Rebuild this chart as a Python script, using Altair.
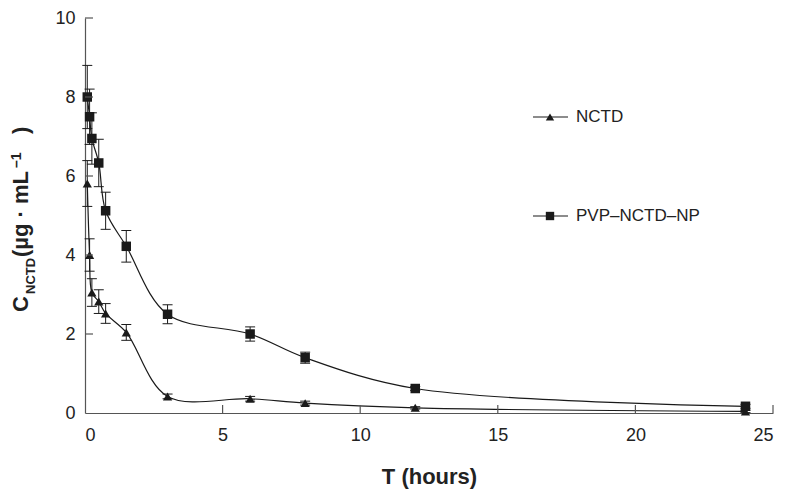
import altair as alt
import pandas as pd

# ---- data ----
time_h = [0.083, 0.167, 0.25, 0.5, 0.75, 1.5, 3, 6, 8, 12, 24]
nctd_mean = [5.81, 4.0, 3.05, 2.82, 2.52, 2.04, 0.42, 0.36, 0.25, 0.13, 0.04]
nctd_err = [0.58, 0.41, 0.35, 0.30, 0.25, 0.20, 0.06, 0.06, 0.05, 0.03, 0.03]
np_mean = [8.0, 7.5, 6.95, 6.33, 5.12, 4.22, 2.5, 2.0, 1.4, 0.62, 0.17]
np_err = [0.80, 0.70, 0.65, 0.60, 0.47, 0.40, 0.24, 0.18, 0.14, 0.05, 0.05]
series_names = ["NCTD", "PVP\u2013NCTD\u2013NP"]
x_ticks = [0, 5, 10, 15, 20, 25]
y_ticks = [0, 2, 4, 6, 8, 10]

rows = []
for name, means, errs in [(series_names[0], nctd_mean, nctd_err),
                          (series_names[1], np_mean, np_err)]:
    for t, m, e in zip(time_h, means, errs):
        rows.append({"series": name, "t": t, "c": m, "lo": max(m - e, 0), "hi": m + e})
df = pd.DataFrame(rows)

TOP = 10
W, H = 688, 395
INK = "#1a1a1a"
FONT = "Liberation Sans"

xscale = alt.Scale(domain=[0, 25], nice=False, zero=True)
yscale = alt.Scale(domain=[0, 10], nice=False)
xaxis = alt.Axis(values=x_ticks, tickSize=0, grid=False, labelFontSize=18,
                 labelFont=FONT, labelColor="#222", labelPadding=13,
                 domainColor="#555", domainWidth=1.2,
                 title="T (hours)", titleFont=FONT, titleFontSize=22,
                 titleFontWeight="bold", titleColor="#222",
                 titleBaseline="alphabetic", titleY=70)
yaxis = alt.Axis(values=y_ticks, tickSize=0, grid=False, labelFontSize=18,
                 labelFont=FONT, labelColor="#222", labelPadding=10,
                 domainColor="#555", domainWidth=1.2, title=None)

X = alt.X("t:Q", scale=xscale, axis=xaxis)
Y = alt.Y("c:Q", scale=yscale, axis=yaxis)

base = alt.Chart(df)

lines = base.mark_line(interpolate="catmull-rom", color=INK, strokeWidth=1.2).encode(
    x=X, y=Y, detail="series:N")

errs = base.mark_rule(color=INK, strokeWidth=1).encode(
    x=X, y=alt.Y("lo:Q", scale=yscale, axis=yaxis), y2="hi:Q")
cap_lo = base.mark_tick(orient="horizontal", size=10, thickness=1, color=INK, opacity=1).encode(
    x=X, y=alt.Y("lo:Q", scale=yscale, axis=yaxis))
cap_hi = base.mark_tick(orient="horizontal", size=10, thickness=1, color=INK, opacity=1).encode(
    x=X, y=alt.Y("hi:Q", scale=yscale, axis=yaxis))

points = base.mark_point(filled=True, opacity=1, color=INK, strokeWidth=0).encode(
    x=X, y=Y,
    shape=alt.Shape("series:N", scale=alt.Scale(domain=series_names,
                                                range=["triangle-up", "square"]), legend=None),
    size=alt.Size("series:N", scale=alt.Scale(domain=series_names, range=[85, 90]), legend=None),
)

# inward ticks
ytk = pd.DataFrame({"c": y_ticks[1:]})
xtk = pd.DataFrame({"t": x_ticks[1:]})
yticks = alt.Chart(ytk).mark_rule(color="#555", strokeWidth=1.2).encode(
    y=Y, x=alt.value(0), x2=alt.value(8))
xticks = alt.Chart(xtk).mark_rule(color="#555", strokeWidth=1.2).encode(
    x=X, y=alt.value(H), y2=alt.value(H - 8))

one = pd.DataFrame({"k": [0]})
OY = 8 + TOP   # page y of plot top
OX = 85        # page x of plot left


def txt(s, x, y, size, bold=True, angle=270):
    return alt.Chart(one).mark_text(
        text=s, font=FONT, fontSize=size, fontWeight="bold" if bold else "normal",
        color="#222", angle=angle, align="left", baseline="alphabetic"
    ).encode(x=alt.value(x), y=alt.value(y))


# y-axis title with subscript / superscript (page coords -> local)
ytitle = [
    txt("C", 28 - OX, 312 - OY, 22),
    txt("NCTD", 35 - OX, 294 - OY, 13),
    txt("(\u00b5g \u00b7 mL", 28 - OX, 257 - OY, 22),
    txt("\u20131", 21 - OX, 168 - OY, 14),
    txt(")", 28 - OX, 134 - OY, 22),
]

# legend
leg_y = [117 - OY, 216 - OY]
legend_layers = []
for name, shp, ly in zip(series_names, ["triangle-up", "square"], leg_y):
    legend_layers.append(alt.Chart(one).mark_rule(color=INK, strokeWidth=1.2).encode(
        x=alt.value(448), x2=alt.value(483), y=alt.value(ly)))
    legend_layers.append(alt.Chart(one).mark_point(
        shape=shp, filled=True, color=INK, opacity=1, size=70, strokeWidth=0).encode(
        x=alt.value(465), y=alt.value(ly)))
    legend_layers.append(alt.Chart(one).mark_text(
        text=name, font=FONT, fontSize=17, color="#222", align="left", baseline="middle").encode(
        x=alt.value(491), y=alt.value(ly)))

chart = alt.layer(
    lines, errs, cap_lo, cap_hi, points, yticks, xticks, *ytitle, *legend_layers
).properties(
    width=W, height=H,
    autosize=alt.AutoSizeParams(type="none"),
    padding={"left": 77, "top": TOP, "right": 12, "bottom": 76},
    background="white",
).configure_view(stroke=None)

chart.save("out.html", embed_options={"renderer": "svg", "actions": False})
